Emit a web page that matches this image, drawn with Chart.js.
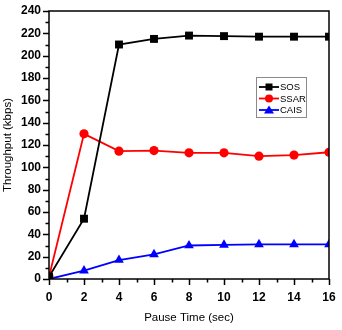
<!DOCTYPE html>
<html>
<head>
<meta charset="utf-8">
<script src="https://cdn.jsdelivr.net/npm/chart.js@4/dist/chart.umd.min.js"></script>
<style>
html,body{margin:0;padding:0;background:#fff;}
#wrap{width:342px;height:330px;position:relative;}
</style>
</head>
<body>
<div id="wrap"><canvas id="c" width="342" height="330"></canvas></div>
<script>
const pauseTimes = [0, 2, 4, 6, 8, 10, 12, 14, 16];
const sosValues  = [2, 54, 210, 215, 218, 217.5, 217, 217, 217];
const ssarValues = [2, 130, 114.5, 115, 113, 113, 110, 111, 113.5];
const caisValues = [0, 7.5, 17, 22, 30, 30.5, 31, 31, 31];
const seriesNames = ['SOS', 'SSAR', 'CAIS'];
const yTicks = [0, 20, 40, 60, 80, 100, 120, 140, 160, 180, 200, 220, 240];
const xTicks = [0, 2, 4, 6, 8, 10, 12, 14, 16];

const FONT = "'Liberation Sans', Arial, sans-serif";

function pts(vals){ return pauseTimes.map((x,i)=>({x:x,y:vals[i]})); }

const framePlugin = {
  id:'frame',
  afterDatasetsDraw(chart){
    const ctx = chart.ctx, a = chart.chartArea;
    const xs = chart.scales.x, ys = chart.scales.y;
    ctx.save();
    ctx.strokeStyle = '#000';
    ctx.lineWidth = 1.5;
    ctx.strokeRect(a.left, a.top, a.right - a.left, a.bottom - a.top);
    ctx.beginPath();
    for (let v = 0; v <= 240; v += 10) {
      const py = Math.round(ys.getPixelForValue(v)) + 0.5;
      const len = (v % 20 === 0) ? 6 : 3.5;
      ctx.moveTo(a.left, py); ctx.lineTo(a.left - len, py);
    }
    for (let v = 0; v <= 16; v += 1) {
      const px = Math.round(xs.getPixelForValue(v)) + 0.5;
      const len = (v % 2 === 0) ? 6 : 3.5;
      ctx.moveTo(px, a.bottom); ctx.lineTo(px, a.bottom + len);
    }
    ctx.stroke();
    ctx.restore();
  },
  afterDraw(chart){
    const ctx = chart.ctx;
    const x0 = 256, y0 = 77, w = 50, h = 40;
    ctx.save();
    ctx.fillStyle = '#fff';
    ctx.fillRect(x0, y0, w, h);
    ctx.strokeStyle = '#8a8a8a';
    ctx.lineWidth = 1;
    ctx.strokeRect(x0 + 0.5, y0 + 0.5, w, h);
    chart.data.datasets.forEach((ds, i) => {
      const cy = y0 + 10 + i * 11.5;
      const lx1 = x0 + 3, lx2 = x0 + 23, mx = (lx1 + lx2) / 2;
      ctx.strokeStyle = ds.borderColor;
      ctx.lineWidth = 1.8;
      ctx.beginPath(); ctx.moveTo(lx1, cy); ctx.lineTo(lx2, cy); ctx.stroke();
      ctx.fillStyle = ds.borderColor;
      ctx.beginPath();
      if (ds.pointStyle === 'rect') {
        ctx.rect(mx - 3.5, cy - 3.5, 7, 7);
      } else if (ds.pointStyle === 'circle') {
        ctx.arc(mx, cy, 4, 0, Math.PI * 2);
      } else {
        ctx.moveTo(mx, cy - 4.5); ctx.lineTo(mx + 5, cy + 3.5); ctx.lineTo(mx - 5, cy + 3.5); ctx.closePath();
      }
      ctx.fill();
      ctx.fillStyle = '#000';
      ctx.font = '9.5px ' + FONT;
      ctx.textBaseline = 'middle';
      ctx.textAlign = 'left';
      ctx.fillText(ds.label, lx2 + 1, cy + 0.5);
    });
    ctx.restore();
  }
};

new Chart(document.getElementById('c'), {
  type: 'line',
  data: {
    datasets: [
      {label: seriesNames[0], data: pts(sosValues), borderColor:'#000000', backgroundColor:'#000000',
       pointStyle:'rect', pointRadius:5.6, borderWidth:1.8, pointBorderWidth:0},
      {label: seriesNames[1], data: pts(ssarValues), borderColor:'#ff0000', backgroundColor:'#ff0000',
       pointStyle:'circle', pointRadius:4.6, borderWidth:1.8, pointBorderWidth:0},
      {label: seriesNames[2], data: pts(caisValues), borderColor:'#0000ff', backgroundColor:'#0000ff',
       pointStyle:'triangle', pointRadius:5.6, borderWidth:1.8, pointBorderWidth:0}
    ]
  },
  options: {
    responsive: false,
    animation: false,
    events: [],
    layout: {padding: {top: 11, right: 13, left: 0, bottom: 0}},
    plugins: {legend: {display: false}, tooltip: {enabled: false}},
    scales: {
      x: {
        type: 'linear', min: 0, max: 16,
        afterBuildTicks(s){ s.ticks = xTicks.map(v => ({value: v})); },
        afterFit(s){ s.height = 51; },
        border: {display: false},
        grid: {drawOnChartArea: false, drawTicks: true, tickLength: 6, color: 'rgba(0,0,0,0)'},
        ticks: {color: '#000', font: {family: FONT, size: 12, weight: 'bold'}, padding: 5, maxRotation: 0},
        title: {display: true, text: 'Pause Time (sec)', color: '#000',
                font: {family: FONT, size: 11.5}, padding: {top: 0, bottom: 5}}
      },
      y: {
        type: 'linear', min: 0, max: 240,
        afterBuildTicks(s){ s.ticks = yTicks.map(v => ({value: v})); },
        afterFit(s){ s.width = 49; },
        border: {display: false},
        grid: {drawOnChartArea: false, drawTicks: true, tickLength: 6, color: 'rgba(0,0,0,0)'},
        ticks: {color: '#000', font: {family: FONT, size: 12, weight: 'bold'}, padding: 2},
        title: {display: true, text: 'Throughput (kbps)', color: '#000',
                font: {family: FONT, size: 11.5}, padding: {top: 1, bottom: 0}}
      }
    }
  },
  plugins: [framePlugin]
});
</script>
</body>
</html>
